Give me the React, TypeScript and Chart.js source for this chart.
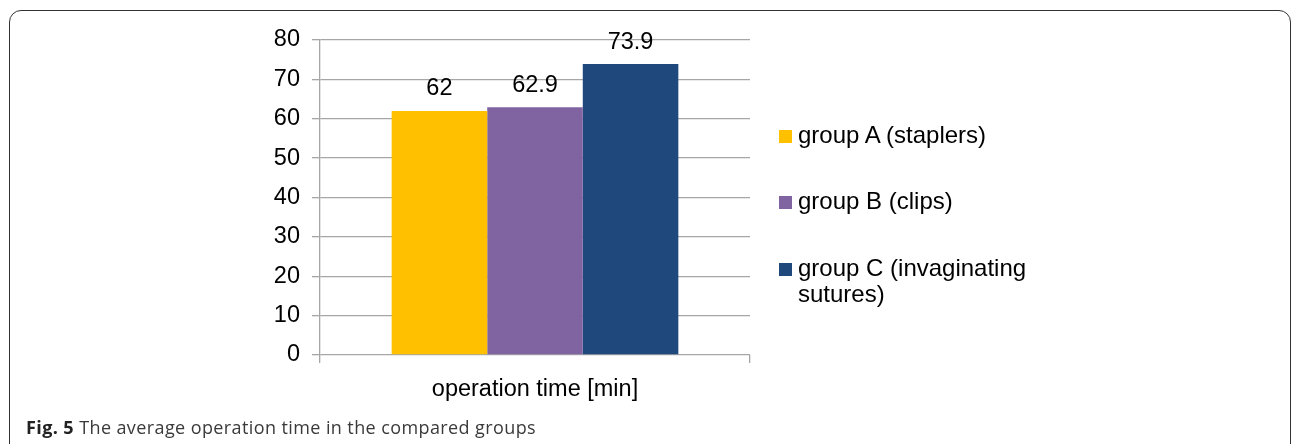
import React, { useEffect, useRef } from "react";
import { Chart, registerables } from "chart.js";

Chart.register(...registerables);

const categories = ["operation time [min]"];
const seriesNames = ["group A (staplers)", "group B (clips)", "group C (invaginating sutures)"];
const seriesValues = [62, 62.9, 73.9];
const seriesColors = ["#FFC000", "#8064A2", "#1F497D"];
const yMin = 0;
const yMax = 80;
const yStep = 10;
const captionBold = "Fig. 5";
const captionText = "The average operation time in the compared groups";

const FONT = '"Liberation Sans", Arial, Helvetica, sans-serif';
const GRID = "#a6a6a6";

const valueLabels = {
  id: "valueLabels",
  afterDatasetsDraw(chart: any) {
    const ctx = chart.ctx;
    ctx.save();
    ctx.font = `23.5px ${FONT}`;
    ctx.fillStyle = "#000";
    ctx.textAlign = "center";
    ctx.textBaseline = "alphabetic";
    chart.data.datasets.forEach((ds: any, i: number) => {
      const meta = chart.getDatasetMeta(i);
      meta.data.forEach((el: any, j: number) => {
        ctx.fillText(String(ds.data[j]), el.x, el.y - 15.5);
      });
    });
    ctx.restore();
  },
};

export default function App() {
  const ref = useRef<HTMLCanvasElement | null>(null);

  useEffect(() => {
    if (!ref.current) return;
    const chart = new Chart(ref.current, {
      type: "bar",
      data: {
        labels: categories,
        datasets: seriesNames.map((name, i) => ({
          label: name,
          data: [seriesValues[i]],
          backgroundColor: seriesColors[i],
          borderWidth: 0,
          categoryPercentage: 0.6667,
          barPercentage: 1,
        })),
      },
      options: {
        animation: false,
        responsive: false,
        maintainAspectRatio: false,
        layout: { padding: { left: 0, top: 40, right: 542, bottom: 29 } },
        plugins: {
          legend: { display: false },
          tooltip: { enabled: false },
          title: { display: false },
        },
        scales: {
          x: {
            grid: {
              display: true,
              drawOnChartArea: false,
              drawTicks: true,
              tickLength: 8,
              color: GRID,
              lineWidth: 1.3,
              offset: true,
            },
            border: { display: false },
            ticks: { color: "#000", font: { family: FONT, size: 23.5 }, padding: 12 },
            afterFit: (s: any) => {
              s.height = 60;
            },
          },
          y: {
            min: yMin,
            max: yMax,
            ticks: { stepSize: yStep, color: "#000", font: { family: FONT, size: 23.5 }, padding: 12 },
            grid: { color: GRID, lineWidth: 1.3, tickLength: 8 },
            border: { display: true, color: GRID, width: 1.3 },
            afterFit: (s: any) => {
              s.width = 320;
            },
          },
        },
      },
      plugins: [valueLabels],
    } as any);
    return () => chart.destroy();
  }, []);

  return (
    <div
      style={{
        position: "fixed",
        left: 0,
        top: 0,
        width: 1292,
        height: 444,
        overflow: "hidden",
        background: "#fff",
      }}
    >
      <div
        style={{
          position: "absolute",
          left: 9,
          top: 10,
          width: 1282,
          height: 480,
          boxSizing: "border-box",
          border: "1.5px solid #333",
          borderTopLeftRadius: 12,
          borderTopRightRadius: 12,
        }}
      />
      <canvas ref={ref} width={1292} height={444} style={{ position: "absolute", left: 0, top: 0 }} />
      <div
        style={{
          position: "absolute",
          left: 779,
          top: 121.5,
          display: "flex",
          flexDirection: "column",
          gap: 40,
          fontFamily: FONT,
          fontSize: 24,
          lineHeight: "26.5px",
          color: "#000",
        }}
      >
        {seriesNames.map((name, i) => (
          <div key={name} style={{ display: "flex", alignItems: "flex-start" }}>
            <div
              style={{
                width: 13,
                height: 13,
                marginTop: 8,
                marginRight: 6,
                background: seriesColors[i],
                flex: "none",
              }}
            />
            <div style={{ width: 260 }}>{name}</div>
          </div>
        ))}
      </div>
      <div
        style={{
          position: "absolute",
          left: 26,
          top: 415.5,
          fontFamily: '"Open Sans", sans-serif',
          fontSize: 18,
          letterSpacing: 0.4,
          lineHeight: "22px",
          color: "#3a3a3a",
          whiteSpace: "nowrap",
        }}
      >
        <span style={{ fontWeight: 700, color: "#222" }}>{captionBold}</span> {captionText}
      </div>
    </div>
  );
}
